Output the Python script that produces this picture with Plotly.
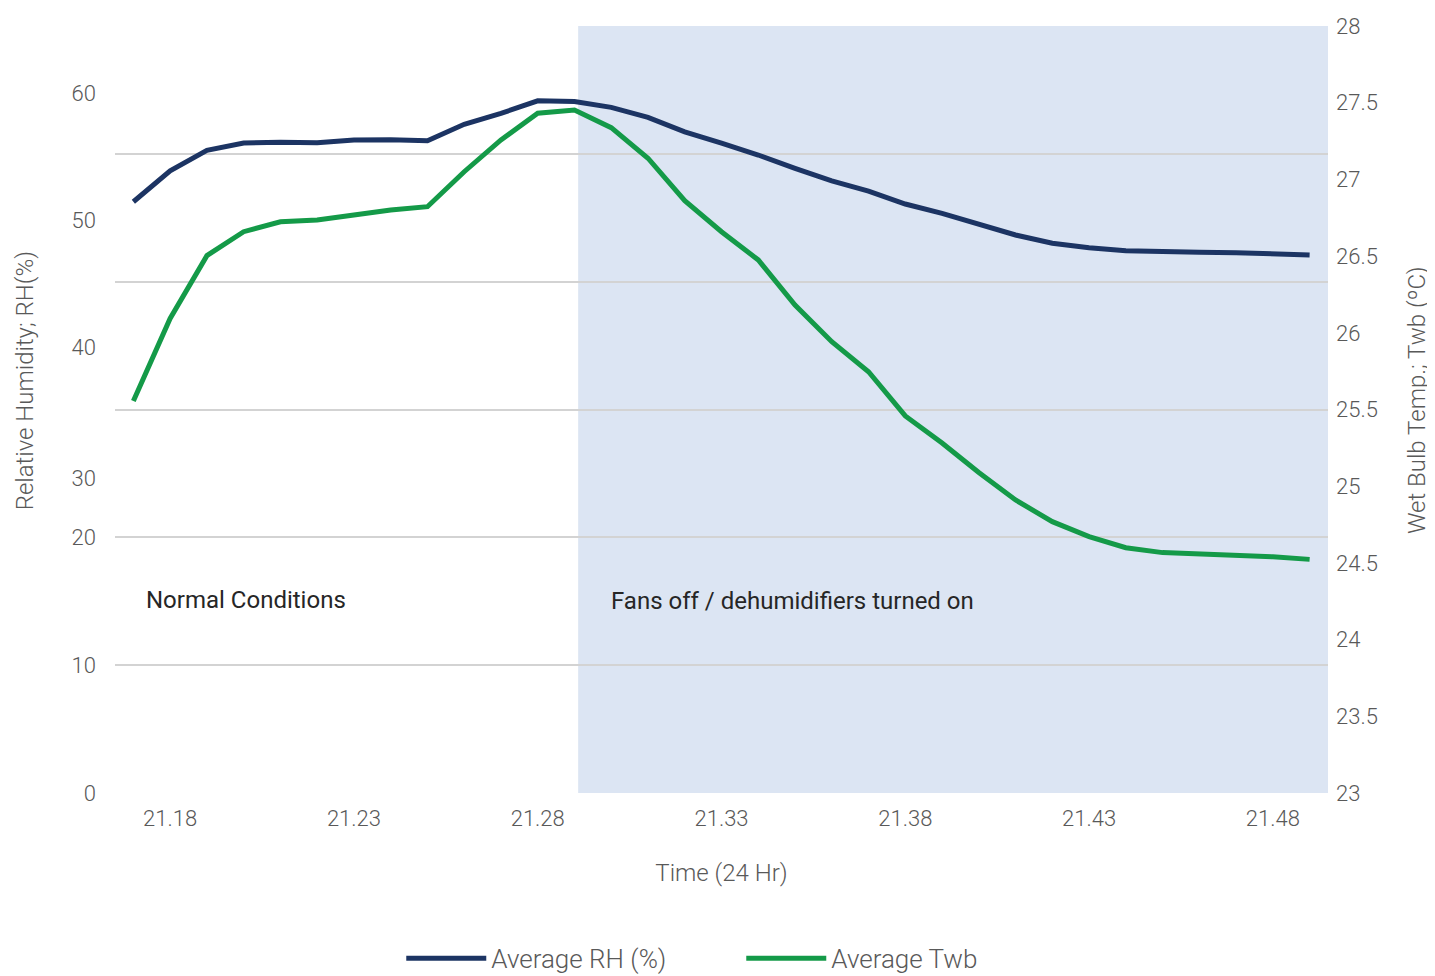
import plotly.graph_objects as go

# ---- data ----
times = ["21.17", "21.18", "21.19", "21.20", "21.21", "21.22", "21.23", "21.24", "21.25",
         "21.26", "21.27", "21.28", "21.29", "21.30", "21.31", "21.32", "21.33", "21.34",
         "21.35", "21.36", "21.37", "21.38", "21.39", "21.40", "21.41", "21.42", "21.43",
         "21.44", "21.45", "21.46", "21.47", "21.48", "21.49"]
avg_rh = [51.44, 53.88, 55.49, 56.06, 56.12, 56.09, 56.30, 56.32, 56.24, 57.54, 58.40,
          59.39, 59.33, 58.87, 58.09, 56.95, 56.06, 55.12, 54.07, 53.09, 52.28, 51.26,
          50.53, 49.69, 48.82, 48.17, 47.82, 47.58, 47.48, 47.46, 47.43, 47.38, 47.24]
avg_twb = [25.555, 26.094, 26.503, 26.659, 26.724, 26.735, 26.768, 26.800, 26.822, 27.050,
           27.257, 27.431, 27.452, 27.337, 27.138, 26.861, 26.659, 26.475, 26.181, 25.942,
           25.746, 25.458, 25.282, 25.089, 24.910, 24.769, 24.671, 24.599, 24.567, 24.558,
           24.551, 24.540, 24.523]
x_ticks = ["21.18", "21.23", "21.28", "21.33", "21.38", "21.43", "21.48"]
rh_tick_text = ["0", "10", "20", "30", "40", "50", "60"]
rh_tick_vals = [4.88, 14.96, 25.04, 29.69, 40, 50, 60]
twb_ticks = [23, 23.5, 24, 24.5, 25, 25.5, 26, 26.5, 27, 27.5, 28]
grid_vals = [0, 1, 2, 3, 4, 5, 6]

NAVY = "#1C3463"
GREEN = "#149A48"
SHADE = "#DCE5F3"
GRID = "#D3D3D3"
TXT = "#595959"
FONT = "Roboto"

fig = go.Figure()

# invisible trace to host the gridline axis
fig.add_trace(go.Scatter(x=[times[0]], y=[0], yaxis="y3", mode="markers",
                         marker=dict(opacity=0), showlegend=False, hoverinfo="skip"))

fig.add_trace(go.Scatter(x=times, y=avg_rh, name="Average RH (%)", mode="lines",
                         line=dict(color=NAVY, width=5), yaxis="y"))
fig.add_trace(go.Scatter(x=times, y=avg_twb, name="Average Twb", mode="lines",
                         line=dict(color=GREEN, width=5), yaxis="y2"))

fig.add_shape(type="rect", xref="x", yref="paper", x0=12.1, x1=32.5, y0=0, y1=1,
              fillcolor=SHADE, line=dict(width=0), layer="below")

fig.update_layout(
    width=1427, height=968,
    margin=dict(l=107, r=107, t=18, b=183, autoexpand=False),
    paper_bgcolor="white", plot_bgcolor="white",
    font=dict(family=FONT, color=TXT, size=22, weight=300),
    xaxis=dict(type="category", categoryorder="array", categoryarray=times,
               range=[-0.5, 32.5], tickmode="array", tickvals=x_ticks, ticktext=x_ticks,
               showgrid=False, zeroline=False, showline=False, ticks="",
               automargin=False, ticklabelstandoff=10,
               tickfont=dict(size=22, color=TXT, family=FONT, weight=300),
               title=dict(text="Time (24 Hr)", standoff=34,
                          font=dict(size=24, color=TXT, family=FONT, weight=300))),
    yaxis=dict(range=[4.88, 65.28], tickmode="array", tickvals=rh_tick_vals,
               ticktext=rh_tick_text, showgrid=False, zeroline=False, showline=False,
               ticks="", ticklabelstandoff=18, automargin=False,
               tickfont=dict(size=22, color=TXT, family=FONT, weight=300)),
    yaxis2=dict(range=[23, 28], overlaying="y", side="right", tickmode="array",
                tickvals=twb_ticks, ticktext=[f"{t:g}" for t in twb_ticks],
                showgrid=False, zeroline=False, showline=False, ticks="",
                ticklabelstandoff=7, automargin=False,
                tickfont=dict(size=22, color=TXT, family=FONT, weight=300)),
    yaxis3=dict(range=[0, 6], overlaying="y", tickmode="array", tickvals=grid_vals,
                showticklabels=False, showgrid=True, gridcolor=GRID, gridwidth=2,
                zeroline=False, showline=False, ticks="", automargin=False),
    legend=dict(orientation="h", x=0.236, xanchor="left", y=-0.185, yanchor="top",
                font=dict(size=26, color=TXT, family=FONT, weight=300),
                itemwidth=80, entrywidth=245, bgcolor="rgba(0,0,0,0)"),
    annotations=[
        dict(text="Normal Conditions", xref="paper", yref="paper", x=0.0235, y=0.252,
             xanchor="left", yanchor="middle", showarrow=False,
             font=dict(size=24, color="#262626", family=FONT, weight=400)),
        dict(text="Fans off / dehumidifiers turned on", xref="paper", yref="paper",
             x=0.407, y=0.250, xanchor="left", yanchor="middle", showarrow=False,
             font=dict(size=24, color="#262626", family=FONT, weight=400)),
        dict(text="Relative Humidity; RH(%)", xref="paper", yref="paper", x=-0.074,
             y=0.537, xanchor="center", yanchor="middle", textangle=-90, showarrow=False,
             font=dict(size=24, color=TXT, family=FONT, weight=300)),
        dict(text="Wet Bulb Temp.; Twb (ºC)", xref="paper", yref="paper", x=1.074,
             y=0.512, xanchor="center", yanchor="middle", textangle=-90, showarrow=False,
             font=dict(size=24, color=TXT, family=FONT, weight=300)),
    ],
)

fig.write_html("out.html")
